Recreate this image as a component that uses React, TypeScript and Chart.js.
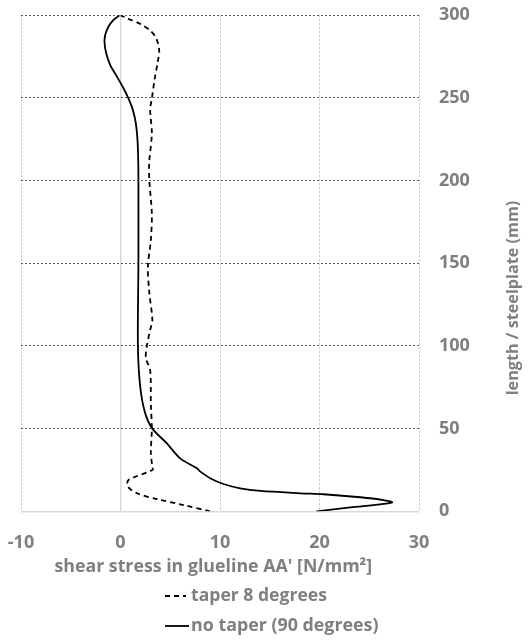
import React, { useEffect, useRef } from "react";
import { Chart, registerables } from "chart.js";

Chart.register(...registerables);

// ---- data ----
const taperY = [0, 3.8, 7.4, 10.9, 14.9, 18.9, 25, 27, 35, 50, 65, 85.5, 92.6, 100, 109.7, 115.7, 132, 148, 164, 180, 200, 210.5, 228.7, 243, 249.6, 261, 271, 279, 286.1, 290.8, 294.8, 298.2, 300];
const taperX = [9.0, 6.33, 3.66, 1.65, 0.74, 0.8, 3.22, 3.2, 3.05, 3.15, 3.05, 2.98, 2.55, 2.65, 2.98, 3.2, 2.9, 2.75, 3.05, 3.15, 2.9, 2.88, 3.15, 2.98, 3.15, 3.42, 3.72, 3.89, 3.59, 2.98, 1.98, 0.64, 0];
const noTaperY = [0, 2.4, 4.2, 5.4, 6.8, 8.5, 10.3, 10.9, 12.3, 13.9, 16.5, 20, 24, 26, 32, 41.1, 50, 59.3, 75.4, 100, 150, 200, 212.5, 224.6, 234.7, 242.8, 249.6, 255.9, 262.9, 270, 277.1, 283.1, 288.1, 293.2, 297.2, 300];
const noTaperX = [19.7, 23.1, 26.1, 27.3, 26.4, 24.1, 20.4, 18.06, 14.04, 12.03, 10.35, 9.01, 8.03, 7.68, 6.0, 4.66, 3.2, 2.48, 1.98, 1.75, 1.8, 1.8, 1.78, 1.71, 1.54, 1.24, 0.81, 0.3, -0.36, -1.04, -1.44, -1.6, -1.54, -1.2, -0.7, -0.1];
const seriesLabels = ["taper 8 degrees", "no taper (90 degrees)"];
const xTitle = "shear stress in glueline AA' [N/mm\u00B2]";
const yTitle = "length / steelplate (mm)";
const xRange = [-10, 30];
const yRange = [0, 300];

const GRAY = "#7f7f7f";
const FONT = "'Open Sans', sans-serif";

function fitFont(ctx: CanvasRenderingContext2D, text: string, target: number) {
  ctx.font = `bold 100px ${FONT}`;
  const w = ctx.measureText(text).width;
  const size = (100 * target) / w;
  return `bold ${size.toFixed(2)}px ${FONT}`;
}

const textPlugin = {
  id: "texts",
  afterDraw(chart: any) {
    const ctx = chart.ctx as CanvasRenderingContext2D;
    ctx.save();
    ctx.fillStyle = GRAY;
    ctx.textBaseline = "middle";
    // x title
    ctx.textAlign = "center";
    ctx.font = fitFont(ctx, xTitle, 318);
    ctx.fillText(xTitle, 213.3, 567);
    // y title (reads bottom to top)
    ctx.save();
    ctx.translate(513, 298);
    ctx.rotate(-Math.PI / 2);
    ctx.font = fitFont(ctx, yTitle, 195);
    ctx.fillText(yTitle, 0, 0);
    ctx.restore();
    // legend
    const rows = [
      { y: 596, dash: [5, 4], label: seriesLabels[0], x1: 165, x2: 186, w: 136 },
      { y: 626, dash: [], label: seriesLabels[1], x1: 165, x2: 189, w: 187.6 },
    ];
    ctx.textAlign = "left";
    rows.forEach((r) => {
      ctx.save();
      ctx.strokeStyle = "#000";
      ctx.lineWidth = 1.8;
      ctx.setLineDash(r.dash);
      ctx.beginPath();
      ctx.moveTo(r.x1, r.y);
      ctx.lineTo(r.x2, r.y);
      ctx.stroke();
      ctx.restore();
      ctx.fillStyle = GRAY;
      ctx.font = fitFont(ctx, r.label, r.w);
      ctx.fillText(r.label, 191, r.y);
    });
    ctx.restore();
  },
};

export default function App() {
  const ref = useRef<HTMLCanvasElement>(null);
  useEffect(() => {
    if (!ref.current) return;
    const chart = new Chart(ref.current, {
      type: "scatter",
      data: {
        datasets: [
          {
            label: seriesLabels[0],
            data: taperX.map((x, i) => ({ x, y: taperY[i] })),
            showLine: true,
            borderColor: "#000",
            borderWidth: 1.8,
            borderDash: [5, 4],
            pointRadius: 0,
            tension: 0.3,
          },
          {
            label: seriesLabels[1],
            data: noTaperX.map((x, i) => ({ x, y: noTaperY[i] })),
            showLine: true,
            borderColor: "#000",
            borderWidth: 1.8,
            pointRadius: 0,
            tension: 0.3,
          },
        ],
      },
      options: {
        animation: false,
        responsive: false,
        maintainAspectRatio: false,
        layout: { padding: { left: 21, top: 15.3, right: 0, bottom: 0 } },
        plugins: { legend: { display: false }, tooltip: { enabled: false } },
        scales: {
          x: {
            type: "linear",
            min: xRange[0],
            max: xRange[1],
            ticks: {
              stepSize: 10,
              color: GRAY,
              font: { family: FONT, size: 18, weight: "bold" },
              padding: 21,
              maxRotation: 0,
            },
            grid: {
              drawTicks: false,
              color: (c: any) => (c.tick && c.tick.value === 0 ? "#d9d9d9" : "#bfbfbf"),
              lineWidth: (c: any) => (c.tick && c.tick.value === 0 ? 1.5 : 1),
            },
            border: {
              display: false,
              dash: (c: any) => (c.tick && c.tick.value === 0 ? [] : [2, 2]),
            },
            afterFit: (s: any) => {
              s.height = 644 - 511.3;
              s.paddingLeft = 0;
              s.paddingRight = 0;
            },
          },
          y: {
            type: "linear",
            position: "right",
            min: yRange[0],
            max: yRange[1],
            ticks: {
              stepSize: 50,
              color: GRAY,
              font: { family: FONT, size: 18, weight: "bold" },
              padding: 20,
            },
            grid: {
              drawTicks: false,
              color: (c: any) => (c.tick && c.tick.value === 0 ? "#d9d9d9" : "#595959"),
              lineWidth: (c: any) => (c.tick && c.tick.value === 0 ? 1.5 : 1),
            },
            border: {
              display: false,
              dash: (c: any) => (c.tick && c.tick.value === 0 ? [] : [2, 2]),
            },
            afterFit: (s: any) => {
              s.width = 110;
              s.paddingTop = 0;
              s.paddingBottom = 0;
            },
          },
        },
      },
      plugins: [textPlugin],
    } as any);
    return () => chart.destroy();
  }, []);
  return (
    <div style={{ position: "absolute", left: 0, top: 0, width: 529, height: 644, background: "#fff" }}>
      <canvas ref={ref} width={529} height={644} style={{ display: "block" }} />
    </div>
  );
}
